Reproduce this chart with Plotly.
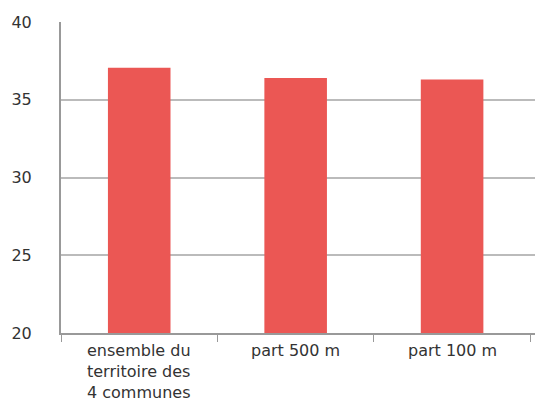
import plotly.graph_objects as go

categories = ["ensemble du<br>territoire des<br>4 communes", "part 500 m", "part 100 m"]
values = [37.05, 36.4, 36.3]
y_ticks = [20, 25, 30, 35, 40]

FONT = "DejaVu Sans"

fig = go.Figure()
fig.add_trace(go.Bar(
    x=categories, y=values, width=0.4,
    marker=dict(color="#EB5754", line=dict(width=0)),
))
for c in categories:
    fig.add_annotation(
        x=c, xref="x", y=0, yref="paper", yanchor="top", xanchor="center",
        yshift=-6, text=c, showarrow=False, align="left",
        font=dict(family=FONT, size=16, color="#333333"),
    )
fig.update_layout(
    width=535, height=401,
    margin=dict(l=61, r=0, t=22, b=68),
    paper_bgcolor="white", plot_bgcolor="white",
    font=dict(family=FONT, size=16, color="#333333"),
    showlegend=False,
)
fig.update_xaxes(
    range=[-0.5, 2.53], tickson="boundaries", ticks="outside", ticklen=7,
    tickcolor="#999999", showline=True, linecolor="#999999", linewidth=2,
    showgrid=False, showticklabels=False,
)
fig.update_yaxes(
    range=[20, 40], tickvals=y_ticks, showgrid=True, gridcolor="#BBBBBB", gridwidth=1.5,
    showline=True, linecolor="#999999", linewidth=2, zeroline=False,
    ticks="", ticklabelstandoff=24, tickfont=dict(size=16),
)
fig.write_html("out.html")
